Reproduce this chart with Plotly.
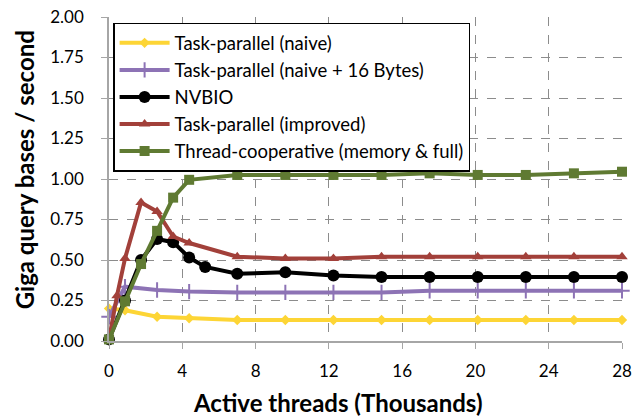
import plotly.graph_objects as go

# x positions in thousands of active threads
x_naive = [0, 0.875, 2.625, 4.375, 7, 9.625, 12.25, 14.875, 17.5, 20.125, 22.75, 25.375, 28]
y_naive = [0.20, 0.19, 0.15, 0.14, 0.13, 0.13, 0.13, 0.13, 0.13, 0.13, 0.13, 0.13, 0.13]

x_naive16 = [0, 0.875, 2.625, 4.375, 7, 9.625, 12.25, 14.875, 17.5, 20.125, 22.75, 25.375, 28]
y_naive16 = [0.15, 0.335, 0.315, 0.305, 0.30, 0.30, 0.30, 0.30, 0.31, 0.31, 0.31, 0.31, 0.31]

x_nvbio = [0, 0.875, 1.75, 2.625, 3.5, 4.375, 5.25, 7, 9.625, 12.25, 14.875, 17.5, 20.125, 22.75, 25.375, 28]
y_nvbio = [0.01, 0.25, 0.50, 0.63, 0.61, 0.515, 0.457, 0.415, 0.425, 0.405, 0.395, 0.395, 0.395, 0.395, 0.395, 0.395]

x_improved = [0, 0.4375, 0.875, 1.75, 2.625, 3.5, 4.375, 7, 9.625, 12.25, 14.875, 17.5, 20.125, 22.75, 25.375, 28]
y_improved = [0.01, 0.28, 0.51, 0.855, 0.80, 0.645, 0.605, 0.52, 0.51, 0.51, 0.52, 0.52, 0.52, 0.52, 0.52, 0.52]

x_coop = [0, 0.875, 1.75, 2.625, 3.5, 4.375, 7, 9.625, 12.25, 14.875, 17.5, 20.125, 22.75, 25.375, 28]
y_coop = [0.01, 0.245, 0.475, 0.68, 0.885, 0.995, 1.025, 1.025, 1.025, 1.025, 1.035, 1.025, 1.025, 1.035, 1.045]

x_ticks = [0, 4, 8, 12, 16, 20, 24, 28]
y_ticks = [0, 0.25, 0.5, 0.75, 1.0, 1.25, 1.5, 1.75, 2.0]
y_tick_labels = ["0.00", "0.25", "0.50", "0.75", "1.00", "1.25", "1.50", "1.75", "2.00"]

series = [
    ("Task-parallel (naive)", x_naive, y_naive, "#fdd535", "diamond", 8),
    ("Task-parallel (naive + 16 Bytes)", x_naive16, y_naive16, "#8d73b5", "cross-thin", 11),
    ("NVBIO", x_nvbio, y_nvbio, "#000000", "circle", 12),
    ("Task-parallel (improved)", x_improved, y_improved, "#a2403a", "triangle-up", 10),
    ("Thread-cooperative (memory & full)", x_coop, y_coop, "#5f7a32", "square", 10),
]

fig = go.Figure()
for i, (name, xs, ys, col, sym, sz) in enumerate(series):
    fig.add_trace(go.Scatter(
        x=xs, y=ys, name=name, mode="lines+markers",
        line=dict(color=col, width=4),
        marker=dict(symbol=sym, size=sz, color=col,
                    line=dict(color=col, width=2 if sym == "cross-thin" else 0)),
        cliponaxis=False,
    ))

fig.update_layout(
    width=632, height=420,
    margin=dict(l=109, r=10, t=17, b=79, autoexpand=False),
    paper_bgcolor="white", plot_bgcolor="white",
    font=dict(family="Lato, Open Sans, sans-serif", color="#000000"),
    showlegend=True,
    legend=dict(
        x=0.008, y=0.982, xanchor="left", yanchor="top",
        bgcolor="white", bordercolor="#000000", borderwidth=1.5,
        font=dict(size=18.5), itemwidth=50,
    ),
    xaxis=dict(
        range=[0, 28], tickvals=x_ticks, ticktext=[str(v) for v in x_ticks],
        showgrid=True, gridcolor="#8c8c8c", griddash="dash", gridwidth=1,
        showline=True, linecolor="#a6a6a6", linewidth=1.5,
        ticks="outside", ticklen=6, tickcolor="#a6a6a6", automargin=False,
        tickfont=dict(size=17), zeroline=False, ticklabelstandoff=8,
    ),
    yaxis=dict(
        range=[0, 2], tickvals=y_ticks, ticktext=y_tick_labels,
        showgrid=True, gridcolor="#8c8c8c", griddash="dash", gridwidth=1,
        showline=True, linecolor="#a6a6a6", linewidth=1.5,
        ticks="outside", ticklen=6, tickcolor="#a6a6a6", automargin=False,
        tickfont=dict(size=17), zeroline=False, ticklabelstandoff=14,
    ),
    annotations=[
        dict(text="<b>Active threads (Thousands)</b>", xref="paper", yref="paper",
             x=(337 - 109) / (632 - 119), y=-0.19, xanchor="center", yanchor="middle",
             showarrow=False, font=dict(size=24)),
        dict(text="<b>Giga query bases / second</b>", xref="paper", yref="paper",
             x=-0.163, y=0.528, xanchor="center", yanchor="middle", textangle=-90,
             showarrow=False, font=dict(size=24)),
    ],
)

fig.write_html("out.html")
